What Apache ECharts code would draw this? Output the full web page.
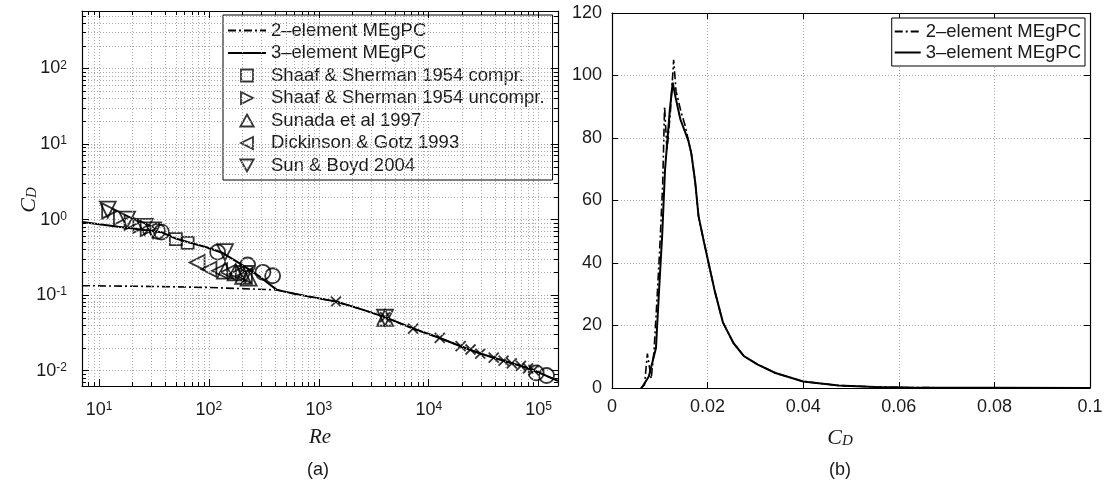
<!DOCTYPE html>
<html>
<head>
<meta charset="utf-8">
<script src="https://cdn.jsdelivr.net/npm/echarts@6.0.0/dist/echarts.min.js"></script>
<style>
  html, body { margin: 0; padding: 0; background: #fff; }
  #main { width: 1107px; height: 494px; }
</style>
</head>
<body>
<div id="main"></div>
<script>
// (a) drag coefficient vs Reynolds number
var re3 = [7, 15, 25, 37, 50, 65, 95, 134, 192, 290, 415, 600, 800, 1430, 2500, 4000, 7200, 12600, 19500, 29400, 48000, 69000, 90000, 150000];
var cd3 = [0.93, 0.8, 0.73, 0.68, 0.56, 0.5, 0.43, 0.36, 0.26, 0.175, 0.117, 0.104, 0.096, 0.082, 0.064, 0.051, 0.036, 0.027, 0.021, 0.0168, 0.0135, 0.0115, 0.0101, 0.0073];
var re2 = [7, 30, 100, 250, 415, 600, 800, 1430, 2500, 4000, 7200, 12600, 19500, 29400, 48000, 69000, 90000, 150000];
var cd2 = [0.133, 0.13, 0.126, 0.12, 0.117, 0.104, 0.096, 0.082, 0.064, 0.051, 0.036, 0.027, 0.021, 0.0168, 0.0135, 0.0115, 0.0101, 0.0073];

var reSq = [50, 64];
var cdSq = [0.55, 0.49];
var reRt = [12.5, 16, 20, 24, 28];
var cdRt = [1.3, 1.08, 0.92, 0.84, 0.76];
var reUp = [140, 175, 205, 230, 4000];
var cdUp = [0.21, 0.2, 0.18, 0.17, 0.05];
var reLt = [78, 100, 125, 150, 180, 210];
var cdLt = [0.27, 0.22, 0.21, 0.2, 0.19, 0.18];
var reDn = [12, 18, 26, 31, 140, 215, 4000];
var cdDn = [1.35, 1.0, 0.8, 0.72, 0.37, 0.19, 0.05];
var reX = [1430, 4000, 7200, 12600, 19500, 24000, 29400, 39000, 48000, 57000, 69000, 80000, 90000];
var cdX = [0.082, 0.051, 0.036, 0.027, 0.021, 0.019, 0.0168, 0.0148, 0.0135, 0.0124, 0.0115, 0.0107, 0.0101];
var reO = [34, 37, 120, 225, 310, 380, 95000, 118000];
var cdO = [0.7, 0.68, 0.37, 0.25, 0.2, 0.18, 0.0093, 0.0086];

// (b) pdf of C_D
var cdPdf3 = [0.0062, 0.0066, 0.0077, 0.0092, 0.0098, 0.0105, 0.0111, 0.0121, 0.0127, 0.0133, 0.0143, 0.016, 0.0166, 0.0174, 0.0181, 0.0192, 0.0202, 0.0215, 0.0232, 0.0254, 0.0276, 0.0305, 0.0342, 0.04, 0.0474, 0.055, 0.062, 0.07, 0.08, 0.1];
var pdf3 = [0, 0, 3.7, 12.8, 30, 49, 70, 89, 97.7, 93, 86, 79, 75, 66, 55, 47, 40, 31, 21, 14.4, 10.2, 7.5, 4.8, 2.1, 0.8, 0.35, 0.15, 0.08, 0.05, 0.02];
var cdPdf2 = [0.006, 0.0068, 0.0074, 0.0082, 0.0088, 0.0094, 0.01, 0.0106, 0.011, 0.0115, 0.0122, 0.0129, 0.0134, 0.0145, 0.0153, 0.0166, 0.0174, 0.0181, 0.0192, 0.0202, 0.0215, 0.0232, 0.0254, 0.0276, 0.0305, 0.0342, 0.04, 0.0474, 0.055, 0.062, 0.07, 0.08, 0.1];
var pdf2 = [0, 1, 11, 3, 12, 28, 45, 65, 90, 76, 88, 105, 95, 88, 84, 75, 66, 55, 47, 40, 31, 21, 14.4, 10.2, 7.5, 4.8, 2.1, 0.8, 0.35, 0.15, 0.08, 0.05, 0.02];

var names = ['2–element MEgPC', '3–element MEgPC', 'Shaaf & Sherman 1954 compr.',
  'Shaaf & Sherman 1954 uncompr.', 'Sunada et al 1997', 'Dickinson & Gotz 1993', 'Sun & Boyd 2004'];

var xMin = 7, xMax = 150000, yMin = 0.00624, yMax = 578;

function zip(a, b) {
  return a.map(function (v, i) { return [v, b[i]]; });
}

// matlab style log grid: 1..9 x 10^k
function logGrid(lo, hi) {
  var out = [];
  for (var k = -4; k <= 6; k++) {
    for (var m = 1; m <= 9; m++) {
      var v = m * Math.pow(10, k);
      if (v > lo * 1.0001 && v < hi * 0.9999) out.push(v);
    }
  }
  return out;
}
function isPow(v) {
  var l = Math.log10(v);
  return Math.abs(l - Math.round(l)) < 1e-6;
}

function powLabel(v) {
  if (!isPow(v)) return '';
  return '{b|10}{s|' + Math.round(Math.log10(v)) + '}';
}

var FONT = 'Liberation Sans';
var txt = '#1a1a1a';
var powRich = {
  b: { fontSize: 18, fontFamily: FONT, color: txt },
  s: { fontSize: 12, fontFamily: FONT, color: txt, verticalAlign: 'top' }
};

var gridDots = { color: '#a8a8a8', width: 1, type: [1, 2] };
var tickLine = { color: '#000', width: 1, type: 'solid' };
var frame = { show: true, onZero: false, lineStyle: { color: '#000', width: 1.2 } };
var tickIn = { show: true, inside: true, length: 6, lineStyle: { color: '#000' } };
var hollow = { color: 'rgba(0,0,0,0)', borderColor: '#000', borderWidth: 1.8 };

// dotted grid plus inward minor/major ticks on the log frame (pixel lengths -> factors)
var gx = logGrid(xMin, xMax), gy = logGrid(yMin, yMax);
var gridLines = gx.map(function (v) { return { xAxis: v }; })
  .concat(gy.map(function (v) { return { yAxis: v }; }));
gx.forEach(function (v) {
  var f = Math.pow(10, (isPow(v) ? 7 : 4) / 75.5);
  gridLines.push([{ coord: [v, yMin], lineStyle: tickLine }, { coord: [v, yMin * f] }]);
  gridLines.push([{ coord: [v, yMax], lineStyle: tickLine }, { coord: [v, yMax / f] }]);
});
gy.forEach(function (v) {
  var f = Math.pow(10, (isPow(v) ? 7 : 4) / 110);
  gridLines.push([{ coord: [xMin, v], lineStyle: tickLine }, { coord: [xMin * f, v] }]);
  gridLines.push([{ coord: [xMax, v], lineStyle: tickLine }, { coord: [xMax / f, v] }]);
});

function logAxis(pos, labels) {
  var horiz = pos === 'bottom' || pos === 'top';
  return {
    type: 'log', gridIndex: 0, position: pos, logBase: 10,
    min: horiz ? xMin : yMin,
    max: horiz ? xMax : yMax,
    axisLine: frame, axisTick: { show: false }, splitLine: { show: false },
    axisLabel: labels ? {
      show: true, formatter: powLabel, rich: powRich, margin: 15,
      showMinLabel: true, showMaxLabel: true, hideOverlap: false
    } : { show: false }
  };
}

function valAxis(pos, min, max, interval, labels) {
  return {
    type: 'value', gridIndex: 1, position: pos, min: min, max: max, interval: interval,
    axisLine: frame, axisTick: tickIn,
    splitLine: labels ? { show: true, lineStyle: gridDots } : { show: false },
    axisLabel: labels ? { show: true, fontSize: 18, fontFamily: FONT, color: txt, margin: 10 } : { show: false }
  };
}

function scatter(name, symbol, size, re, cd) {
  return {
    name: name, type: 'scatter', xAxisIndex: 0, yAxisIndex: 0,
    symbol: symbol, symbolSize: size, itemStyle: hollow, z: 4,
    data: zip(re, cd)
  };
}

function legendItems(list) {
  return list.map(function (n, i) {
    return i < 2 ? { name: n, itemStyle: { opacity: 0 } } : { name: n };
  });
}

var legendText = { fontSize: 18.5, fontFamily: FONT, color: txt };

var chart = echarts.init(document.getElementById('main'));

var option = {
  animation: false,
  backgroundColor: '#fff',
  grid: [
    { left: 82, top: 11, width: 476, height: 375 },
    { left: 612, top: 13, width: 478, height: 375 }
  ],
  xAxis: [
    logAxis('bottom', true),
    logAxis('top', false),
    valAxis('bottom', 0, 0.1, 0.02, true),
    valAxis('top', 0, 0.1, 0.02, false)
  ],
  yAxis: [
    logAxis('left', true),
    logAxis('right', false),
    valAxis('left', 0, 120, 20, true),
    valAxis('right', 0, 120, 20, false)
  ],
  legend: [
    {
      data: legendItems(names), orient: 'vertical', left: 223, top: 15,
      backgroundColor: '#fff', borderColor: '#000', borderWidth: 1, borderRadius: 0,
      padding: [6, 8, 5, 4], itemGap: 3.5, itemWidth: 38, itemHeight: 12,
      textStyle: legendText, selectedMode: false,
      itemStyle: hollow
    },
    {
      data: legendItems(names.slice(0, 2)), orient: 'vertical', right: 22, top: 18,
      backgroundColor: '#fff', borderColor: '#000', borderWidth: 1, borderRadius: 0,
      padding: [4, 4, 4, 2], itemGap: 2, itemWidth: 26, itemHeight: 12,
      textStyle: legendText, selectedMode: false
    }
  ],
  graphic: [
    { type: 'text', x: 320, y: 437, style: { text: 'Re', font: 'italic 21px "Liberation Serif"', fill: txt, align: 'center', verticalAlign: 'middle' } },
    { type: 'text', x: 318, y: 470, style: { text: '(a)', font: '18px "Liberation Sans"', fill: txt, align: 'center', verticalAlign: 'middle' } },
    { type: 'text', x: 840, y: 470, style: { text: '(b)', font: '18px "Liberation Sans"', fill: txt, align: 'center', verticalAlign: 'middle' } },
    { type: 'text', x: 840, y: 438, style: {
      text: '{c|C}{d|D}', align: 'center', verticalAlign: 'middle',
      rich: { c: { fontSize: 22, fontFamily: 'Liberation Serif', fontStyle: 'italic', fill: txt },
              d: { fontSize: 15, fontFamily: 'Liberation Serif', fontStyle: 'italic', fill: txt, verticalAlign: 'bottom' } } } },
    { type: 'text', x: 29, y: 200, rotation: Math.PI / 2, style: {
      text: '{c|C}{d|D}', align: 'center', verticalAlign: 'middle',
      rich: { c: { fontSize: 22, fontFamily: 'Liberation Serif', fontStyle: 'italic', fill: txt },
              d: { fontSize: 15, fontFamily: 'Liberation Serif', fontStyle: 'italic', fill: txt, verticalAlign: 'bottom' } } } }
  ],
  series: [
    {
      name: 'grid', type: 'line', xAxisIndex: 0, yAxisIndex: 0, data: [], z: 1,
      markLine: { silent: true, symbol: ['none', 'none'], label: { show: false },
        lineStyle: gridDots, data: gridLines, animation: false }
    },
    {
      name: names[0], type: 'line', xAxisIndex: 0, yAxisIndex: 0, symbol: 'none', z: 3,
      lineStyle: { color: '#000', width: 1.6, type: [8, 3, 2, 3] }, data: zip(re2, cd2)
    },
    {
      name: names[1], type: 'line', xAxisIndex: 0, yAxisIndex: 0, symbol: 'none', z: 3,
      lineStyle: { color: '#000', width: 2 }, data: zip(re3, cd3)
    },
    scatter(names[2], 'path://M0,0L10,0L10,10L0,10Z', 12, reSq, cdSq),
    scatter(names[3], 'path://M0,0L10,5L0,10Z', 15, reRt, cdRt),
    scatter(names[4], 'path://M5,0L10,9L0,9Z', 16, reUp, cdUp),
    scatter(names[5], 'path://M10,0L0,5L10,10Z', 15, reLt, cdLt),
    scatter(names[6], 'path://M0,0L10,0L5,9Z', 16, reDn, cdDn),
    scatter('x', 'path://M0,0L10,10M10,0L0,10', 10, reX, cdX),
    scatter('o', 'circle', 15, reO, cdO),
    {
      name: names[0], type: 'line', xAxisIndex: 2, yAxisIndex: 2, symbol: 'none', z: 3,
      lineStyle: { color: '#000', width: 1.6, type: [8, 3, 2, 3] }, data: zip(cdPdf2, pdf2)
    },
    {
      name: names[1], type: 'line', xAxisIndex: 2, yAxisIndex: 2, symbol: 'none', z: 3,
      lineStyle: { color: '#000', width: 2 }, data: zip(cdPdf3, pdf3)
    }
  ]
};

chart.setOption(option);
</script>
</body>
</html>
